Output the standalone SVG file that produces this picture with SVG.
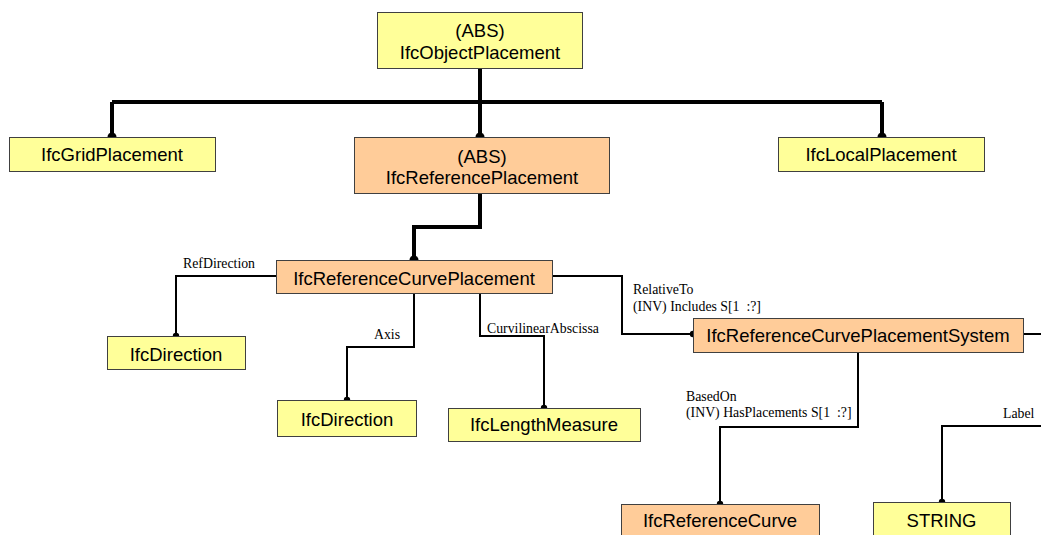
<svg xmlns="http://www.w3.org/2000/svg" width="1041" height="535" viewBox="0 0 1041 535">
<style>
.y{fill:#FFFF99;stroke:#404040;stroke-width:1}
.o{fill:#FFCC99;stroke:#404040;stroke-width:1}
.t{font-family:"Liberation Sans",Arial,sans-serif;font-size:18.5px;fill:#000;text-anchor:middle}
.l{font-family:"Liberation Serif","Times New Roman",serif;font-size:13.8px;fill:#000;white-space:pre}
.th{fill:none;stroke:#000;stroke-width:4}
.tn{fill:none;stroke:#000;stroke-width:2}
</style>
<rect width="1041" height="535" fill="#fff"/>
<g id="connectors">
<path class="th" d="M480,68 V102 M112,102 H882 M112,102 V137 M480,102 V137 M882,102 V137"/>
<path class="th" d="M480,193 V227 H414 V260"/>
<circle cx="112" cy="137" r="4.5"/>
<circle cx="480" cy="137" r="4.5"/>
<circle cx="882" cy="137" r="4.5"/>
<circle cx="414" cy="260" r="4.5"/>
<path class="tn" d="M276,276 H176 V336"/>
<path class="tn" d="M414,293 V347 H347 V400"/>
<path class="tn" d="M480,293 V336 H544 V408"/>
<path class="tn" d="M552,276 H622 V334 H693"/>
<path class="tn" d="M1023,334 H1041"/>
<path class="tn" d="M858,352 V427 H720 V504"/>
<path class="tn" d="M1041,426 H942 V502"/>
<circle cx="176" cy="336" r="3.2"/>
<circle cx="347" cy="400" r="3.2"/>
<circle cx="544" cy="408" r="3.2"/>
<circle cx="693" cy="334" r="3.2"/>
<circle cx="720" cy="504" r="3.2"/>
<circle cx="942" cy="502" r="3.2"/>
<text class="l" x="183" y="268">RefDirection</text>
<text class="l" x="374" y="339">Axis</text>
<text class="l" x="487" y="333">CurvilinearAbscissa</text>
<text class="l" x="633" y="294">RelativeTo</text>
<text class="l" x="633" y="311">(INV) Includes S[1&#160;&#160;:?]</text>
<text class="l" x="686" y="401">BasedOn</text>
<text class="l" x="686" y="417">(INV) HasPlacements S[1&#160;&#160;:?]</text>
<text class="l" x="1003" y="418">Label</text>
</g>
<g id="IfcObjectPlacement">
<rect class="y" x="377.5" y="12.5" width="205" height="56"/>
<text class="t" x="480" y="37">(ABS)</text>
<text class="t" x="480" y="59">IfcObjectPlacement</text>
</g>
<g id="IfcGridPlacement">
<rect class="y" x="9.5" y="137.5" width="206" height="34"/>
<text class="t" x="112" y="161">IfcGridPlacement</text>
</g>
<g id="IfcReferencePlacement">
<rect class="o" x="354.5" y="137.5" width="255" height="56"/>
<text class="t" x="482" y="163">(ABS)</text>
<text class="t" x="482" y="184">IfcReferencePlacement</text>
</g>
<g id="IfcLocalPlacement">
<rect class="y" x="778.5" y="137.5" width="206" height="34"/>
<text class="t" x="881" y="161">IfcLocalPlacement</text>
</g>
<g id="IfcReferenceCurvePlacement">
<rect class="o" x="276.5" y="260.5" width="276" height="33"/>
<text class="t" x="414" y="284.5">IfcReferenceCurvePlacement</text>
</g>
<g id="IfcDirection1">
<rect class="y" x="107.5" y="336.5" width="138" height="33"/>
<text class="t" x="176" y="361">IfcDirection</text>
</g>
<g id="IfcDirection2">
<rect class="y" x="277.5" y="400.5" width="139" height="36"/>
<text class="t" x="347" y="426">IfcDirection</text>
</g>
<g id="IfcLengthMeasure">
<rect class="y" x="448.5" y="408.5" width="192" height="33"/>
<text class="t" x="544" y="431">IfcLengthMeasure</text>
</g>
<g id="IfcReferenceCurvePlacementSystem">
<rect class="o" x="693.5" y="318.5" width="330" height="34"/>
<text class="t" x="858" y="342">IfcReferenceCurvePlacementSystem</text>
</g>
<g id="IfcReferenceCurve">
<rect class="o" x="621.5" y="504.5" width="198" height="40"/>
<text class="t" x="720" y="527">IfcReferenceCurve</text>
</g>
<g id="STRING">
<rect class="y" x="873.5" y="502.5" width="137" height="42"/>
<text class="t" x="941.5" y="527">STRING</text>
</g>
</svg>
